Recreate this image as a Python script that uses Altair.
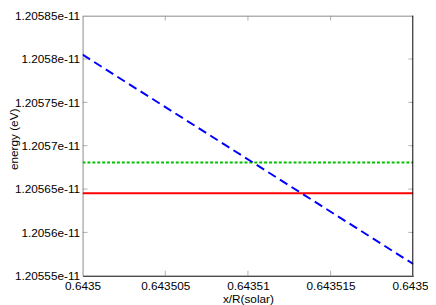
import altair as alt
import pandas as pd

# data
x_range = [0.6435, 0.64352]
blue_y = [1.205805e-11, 1.2055635e-11]
green_y = 1.2056807e-11
red_y = 1.2056452e-11
x_ticks = [0.6435, 0.643505, 0.64351, 0.643515, 0.64352]
y_ticks = [1.20555e-11, 1.2056e-11, 1.20565e-11, 1.2057e-11, 1.20575e-11, 1.2058e-11, 1.20585e-11]

W, H = 337, 265

rows = []
for xv, yv in zip(x_range, blue_y):
    rows.append({"x": xv, "y": yv, "s": "blue"})
for xv in x_range:
    rows.append({"x": xv, "y": green_y, "s": "green"})
    rows.append({"x": xv, "y": red_y, "s": "red"})
df = pd.DataFrame(rows)

xs = alt.Scale(domain=[x_range[0], x_range[1]], nice=False, zero=False)
ys = alt.Scale(domain=[y_ticks[0], y_ticks[-1]], nice=False, zero=False)

xax = alt.Axis(values=x_ticks, format="~g", labelFlush=False, title="x/R(solar)",
               ticks=False, domain=True, domainColor="black", grid=False,
               labelPadding=5, titlePadding=2)
yax = alt.Axis(values=y_ticks, format="~e", title="energy (eV)",
               ticks=False, domain=True, domainColor="#8a8a8a", grid=False,
               labelPadding=3, titleX=-70, titleY=H / 2 - 7,
               titleBaseline="middle", titleAlign="center")


def series(key, color, dash):
    kw = dict(color=color, strokeWidth=2, clip=True)
    if dash:
        kw["strokeDash"] = dash
    return alt.Chart(df).transform_filter(alt.datum.s == key).mark_line(**kw).encode(
        x=alt.X("x:Q", scale=xs, axis=xax),
        y=alt.Y("y:Q", scale=ys, axis=yax),
    )


green = series("green", "#00c000", [3, 2])
red = series("red", "#ff0000", None)
blue = series("blue", "#0000ff", [9, 5])

ytdf = pd.DataFrame({"v": y_ticks[1:-1]})
xtdf = pd.DataFrame({"v": x_ticks[1:-1]})
tick_style = dict(color="#8a8a8a", thickness=1, size=5)
yl = alt.Chart(ytdf).mark_tick(**tick_style).encode(
    y=alt.Y("v:Q", scale=ys, axis=yax), x=alt.value(2.5))
yr = alt.Chart(ytdf).mark_tick(**tick_style).encode(
    y=alt.Y("v:Q", scale=ys, axis=yax), x=alt.value(W - 2.5))
xb = alt.Chart(xtdf).mark_tick(**tick_style).encode(
    x=alt.X("v:Q", scale=xs, axis=xax), y=alt.value(H - 2.5))
xt = alt.Chart(xtdf).mark_tick(**tick_style).encode(
    x=alt.X("v:Q", scale=xs, axis=xax), y=alt.value(2.5))

# frame edges (top gray, right black) spanning the scale domains
frame = pd.DataFrame({"x0": [x_range[0]], "x1": [x_range[1]],
                      "y0": [y_ticks[0]], "y1": [y_ticks[-1]]})
top_edge = alt.Chart(frame).mark_rule(color="#8a8a8a", strokeWidth=1).encode(
    x=alt.X("x0:Q", scale=xs, axis=xax), x2="x1:Q", y=alt.value(0.5))
right_edge = alt.Chart(frame).mark_rule(color="black", strokeWidth=1).encode(
    y=alt.Y("y0:Q", scale=ys, axis=yax), y2="y1:Q", x=alt.value(W - 0.5))

chart = alt.layer(green, red, blue, yl, xb, yr, xt, top_edge, right_edge).properties(
    width=W, height=H,
    autosize=alt.AutoSizeParams(type="none"),
    padding={"left": 76, "top": 5, "right": 15, "bottom": 27},
).configure_view(stroke=None).configure_axis(
    labelFont="Liberation Sans", titleFont="Liberation Sans",
    labelFontSize=12, titleFontSize=12, labelColor="black", titleColor="black",
    titleFontWeight="normal",
)

chart.save("out.html", embed_options={"renderer": "svg", "actions": False})
